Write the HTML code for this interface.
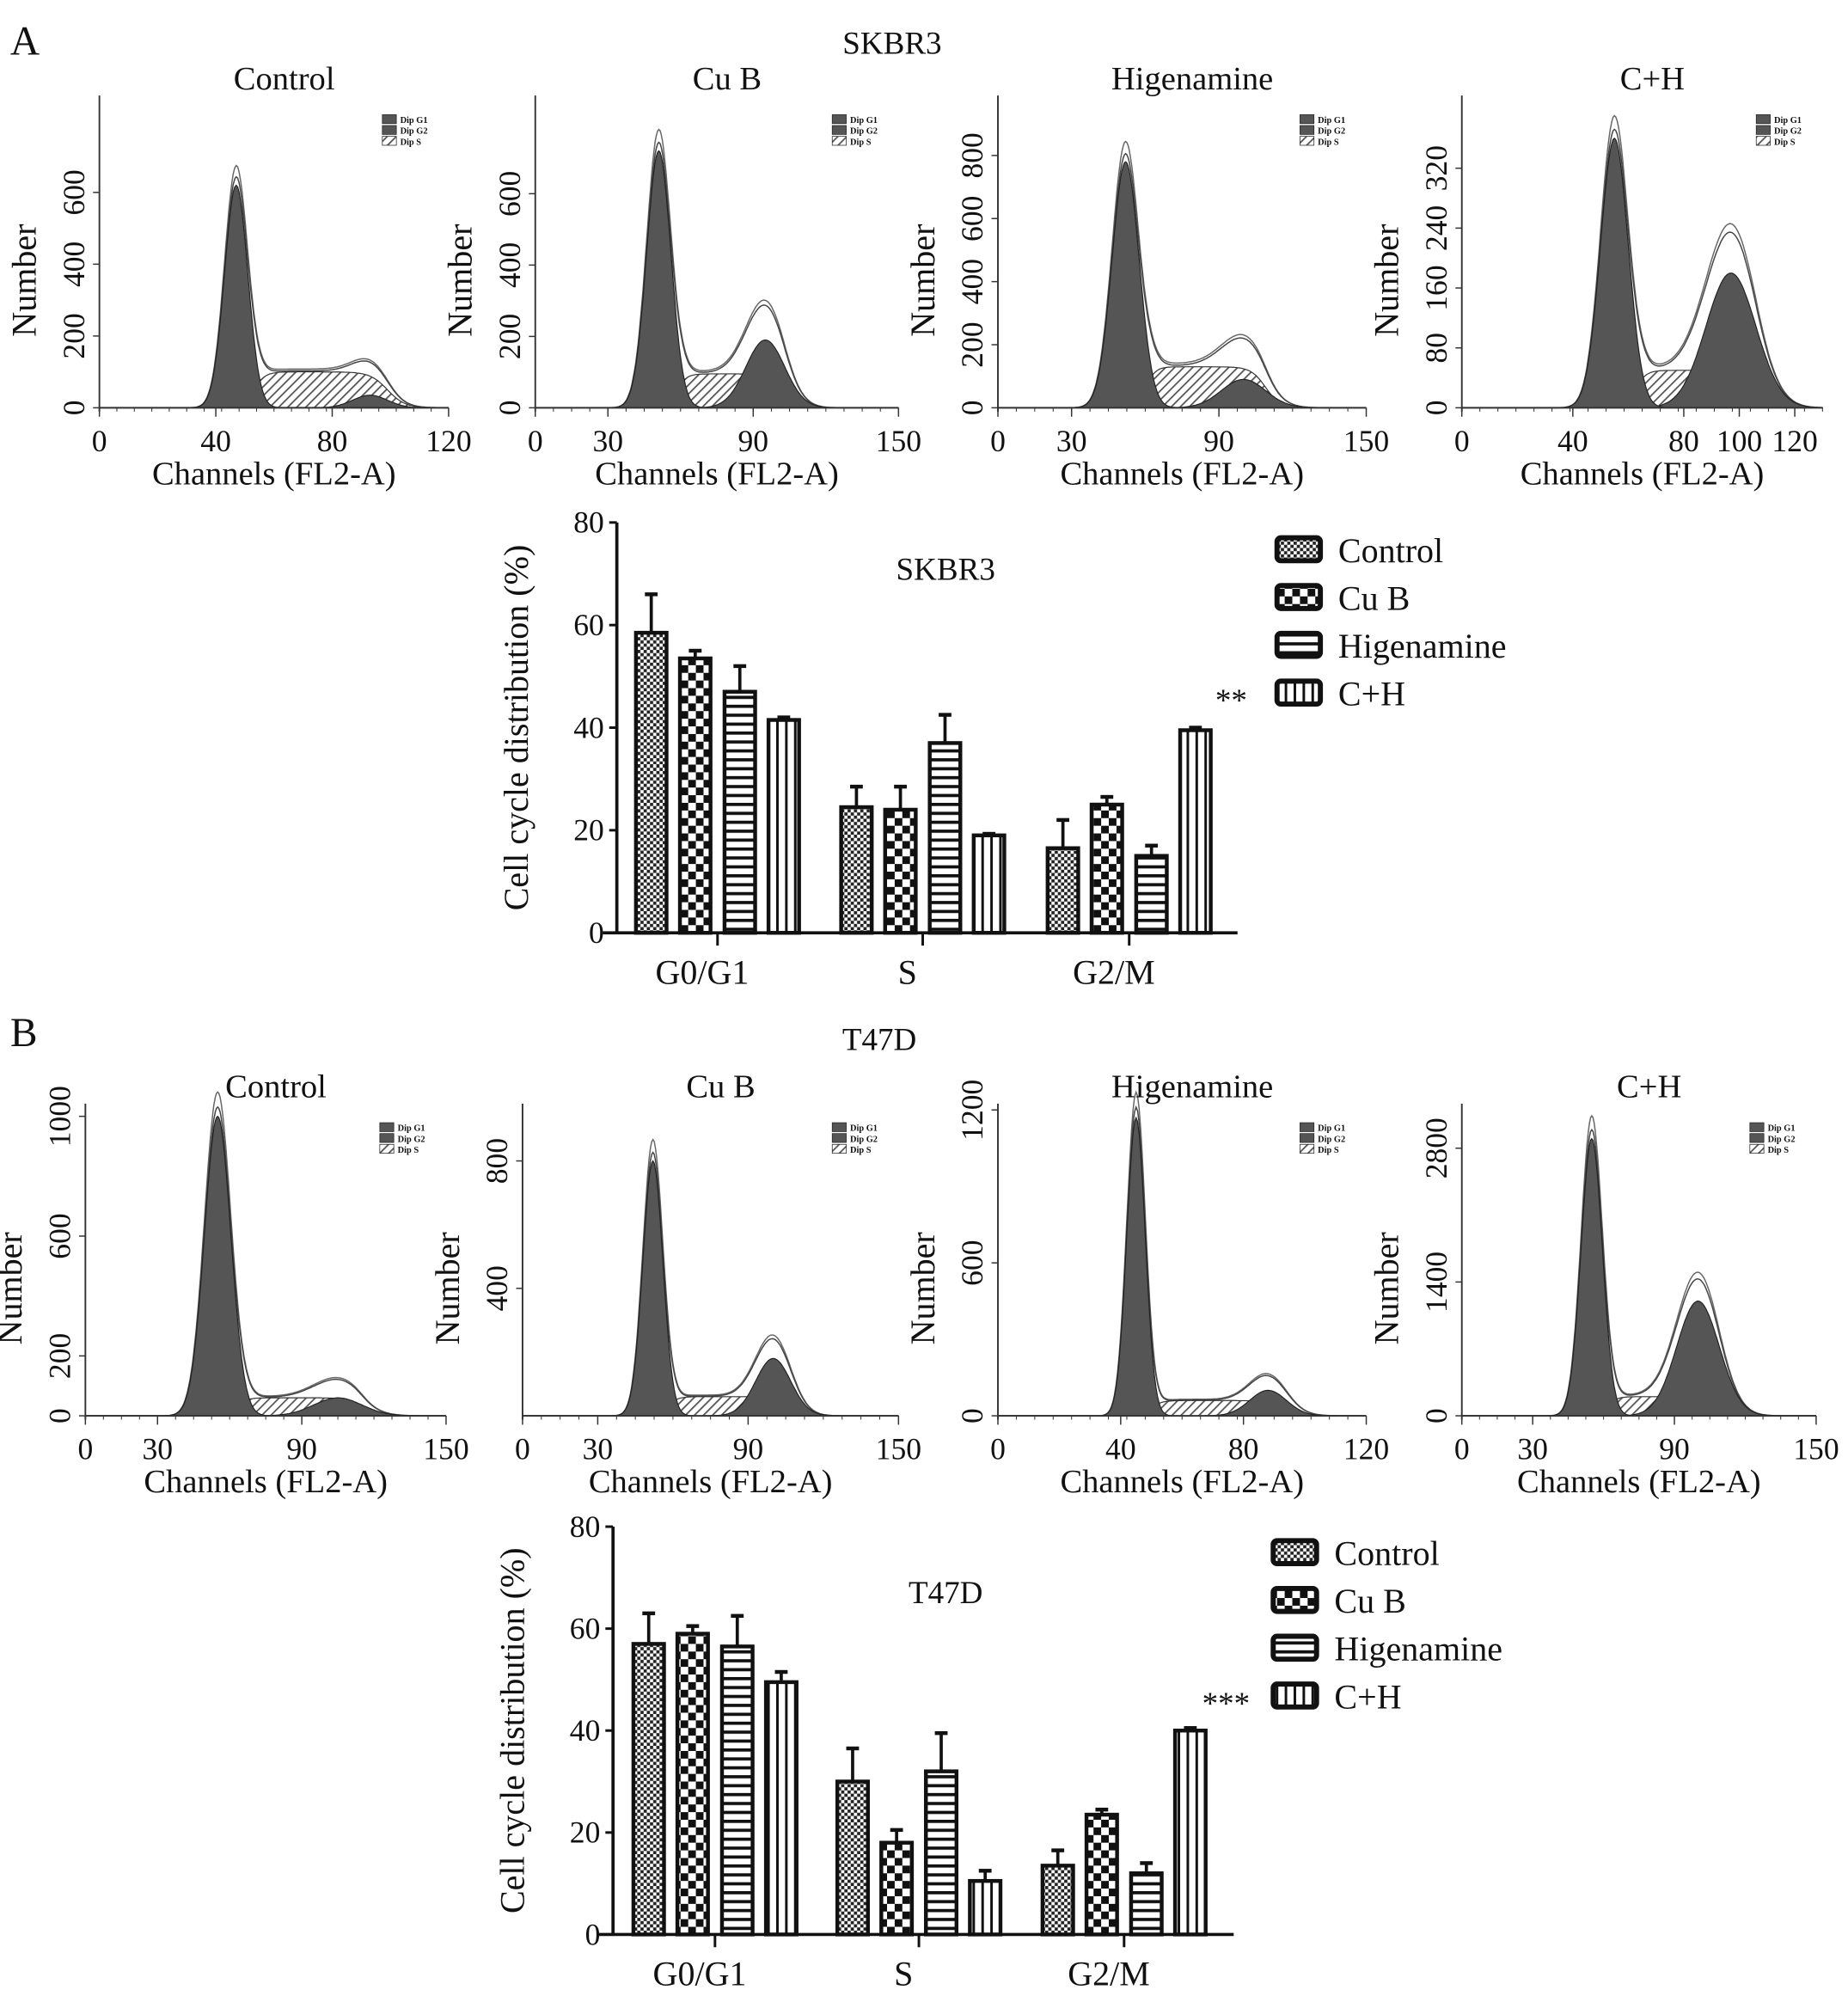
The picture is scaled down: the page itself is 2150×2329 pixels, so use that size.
<!DOCTYPE html>
<html><head><meta charset="utf-8">
<style>
html,body{margin:0;padding:0;background:#fff;}
svg{display:block;}
text{font-family:"Liberation Serif",serif;fill:#111;}
</style></head>
<body>
<svg id="fig" width="2150" height="2329" viewBox="0 0 1450 1571" preserveAspectRatio="none" xmlns="http://www.w3.org/2000/svg">
<defs>
<pattern id="pCtrl" width="5" height="5" patternUnits="userSpaceOnUse"><rect width="5" height="5" fill="#fff"/><rect width="2.5" height="2.5" fill="#222"/><rect x="2.5" y="2.5" width="2.5" height="2.5" fill="#222"/></pattern>
<pattern id="pCub" width="12" height="12" patternUnits="userSpaceOnUse"><rect width="12" height="12" fill="#fff"/><rect width="6" height="6" fill="#111"/><rect x="6" y="6" width="6" height="6" fill="#111"/></pattern>
<pattern id="pHig" width="6" height="7" patternUnits="userSpaceOnUse"><rect width="6" height="7" fill="#fff"/><rect width="6" height="2.5" fill="#111"/></pattern>
<pattern id="pCH" width="7" height="6" patternUnits="userSpaceOnUse"><rect width="7" height="6" fill="#fff"/><rect width="2" height="6" fill="#111"/></pattern>
<pattern id="pS" width="5" height="5" patternUnits="userSpaceOnUse" patternTransform="rotate(45)"><rect width="5" height="5" fill="#fff"/><rect width="1.2" height="5" fill="#555"/></pattern>
</defs>
<g id="root"></g>
</svg>
<script>
// ---- bar chart data ----
const phases = ["G0/G1","S","G2/M"];
const groups = ["Control","Cu B","Higenamine","C+H"];
const skbrMeans = [[58.5,53.5,47,41.5],[24.5,24,37,19],[16.5,25,15,39.5]];
const skbrErr   = [[66,55,52,42],[28.5,28.5,42.5,19.3],[22,26.5,17,40]];
const t47Means  = [[57,59,56.5,49.5],[30,18,32,10.5],[13.5,23.5,12,40]];
const t47Err    = [[63,60.5,62.5,51.5],[36.5,20.5,39.5,12.5],[16.5,24.5,14,40.5]];
const barTicks  = [0,20,40,60,80];
// ---- histogram parameters: [mean channel, peak count, sd] ----
const histG1 = [[47,620,4],[51,720,5],[52,780,5.5],[55,360,5],[55,1000,5.5],[52,800,4],[45,1170,3],[55,2900,4.5]];
const histG2 = [[93,35,6],[95,190,8],[100,90,9],[97,180,9],[105,60,10],[100,180,7],[88,100,6],[100,1200,9]];
const histS  = [100,95,130,50,60,60,60,200];
const histTitles = ["Control","Cu B","Higenamine","C+H","Control","Cu B","Higenamine","C+H"];
const histXTicks = [[0,40,80,120],[0,30,90,150],[0,30,90,150],[0,40,80,100,120],[0,30,90,150],[0,30,90,150],[0,40,80,120],[0,30,90,150]];
const histYTicks = [[0,200,400,600],[0,200,400,600],[0,200,400,600,800],[0,80,160,240,320],[0,200,600,1000],[400,800],[0,600,1200],[0,1400,2800]];
const histXmax = [120,150,150,130,150,150,120,150];
// layout
const histBox = [[78,352,320,0.2817],[420,705,320,0.28],[783,1072,320,0.2475],[1147,1430,320,0.5875],
                 [67,350,1111,0.235],[410,705,1111,0.25],[783,1072,1111,0.2],[1147,1425,1111,0.075]];

const NS="http://www.w3.org/2000/svg";
const root=document.getElementById('root');
function mk(tag,attrs,parent,txt){const e=document.createElementNS(NS,tag);for(const k in attrs)e.setAttribute(k,attrs[k]);if(txt!==undefined)e.textContent=txt;(parent||root).appendChild(e);return e;}

function label(x,y,s,size,anchor,name){
  const t=mk('text',{x:x,y:y,'font-size':size,'text-anchor':anchor||'middle'},root,s);
  
  
  return t;
}
label(8,43,"A",32,"start","panel-label-a");
label(700,42,"SKBR3",25,"middle","skbr3-title");
label(8,821,"B",32,"start","panel-label-b");
label(690,824,"T47D",25,"middle","t47d-title");

function gauss(c,p){return p[1]*Math.exp(-Math.pow(c-p[0],2)/(2*p[2]*p[2]));}
function drawHist(i){
  const [x0,x1,base,ppu]=histBox[i];
  const g=mk('g',{});
  
  
  const xmax=histXmax[i];
  const X=c=>x0+(c/xmax)*(x1-x0);
  const Y=v=>base-v*ppu;
  const g1=histG1[i],g2=histG2[i],sh=histS[i];
  const sf=c=>sh/(1+Math.exp(-(c-(g1[0]+1.5*g1[2]))/2))/(1+Math.exp((c-(g2[0]+g2[2]))/3));
  let dS="",dG1="",dG2="",dT="",dT2="";
  const pts=[];
  for(let c=0;c<=xmax;c+=0.5)pts.push(c);
  pts.forEach((c,k)=>{
    const p=k?"L":"M";
    dS+=p+X(c).toFixed(1)+","+Y(sf(c)).toFixed(1);
    dG1+=p+X(c).toFixed(1)+","+Y(gauss(c,g1)).toFixed(1);
    dG2+=p+X(c).toFixed(1)+","+Y(gauss(c,g2)).toFixed(1);
    const tot=gauss(c,g1)+gauss(c,g2)+sf(c);
    dT+=p+X(c).toFixed(1)+","+Y(tot*1.03).toFixed(1);
    dT2+=p+X(c).toFixed(1)+","+Y(tot*1.08).toFixed(1);
  });
  const close="L"+X(xmax)+","+base+"L"+X(0)+","+base+"Z";
  mk('path',{d:dT2,fill:'none',stroke:'#666','stroke-width':1},g);
  mk('path',{d:dT,fill:'none',stroke:'#444','stroke-width':1},g);
  mk('path',{d:dS+close,fill:'url(#pS)',stroke:'#333','stroke-width':0.8},g);
  mk('path',{d:dG2+close,fill:'#555',stroke:'#222','stroke-width':0.8},g);
  mk('path',{d:dG1+close,fill:'#555',stroke:'#222','stroke-width':0.8},g);
  // axes
  const top=base-245;
  mk('line',{x1:x0,y1:base,x2:x1,y2:base,stroke:'#333','stroke-width':1.3},g);
  mk('line',{x1:x0,y1:base+3,x2:x0,y2:top,stroke:'#333','stroke-width':1.3},g);
  histXTicks[i].forEach(v=>{
    mk('line',{x1:X(v),y1:base,x2:X(v),y2:base+7,stroke:'#333','stroke-width':1},g);
    const t=mk('text',{x:X(v),y:base+34,'font-size':24,'text-anchor':'middle'},g,String(v));
    
    
  });
  for(let v=0;v<=xmax;v+=xmax/20){mk('line',{x1:X(v),y1:base,x2:X(v),y2:base+3,stroke:'#333','stroke-width':0.7},g);}
  histYTicks[i].forEach(v=>{
    const y=Y(v);
    mk('line',{x1:x0-5,y1:y,x2:x0,y2:y,stroke:'#333','stroke-width':1},g);
    const tx=x0-12;
    const t=mk('text',{x:tx,y:y,'font-size':24,'text-anchor':'middle',transform:'rotate(-90 '+tx+' '+y+')'},g,String(v));
    
    
  });
  let t=mk('text',{x:(x0+x1)/2,y:base+60,'font-size':26,'text-anchor':'middle'},g,"Channels (FL2-A)");
  
  
  const nx=x0-50, ny=base-100;
  t=mk('text',{x:nx,y:ny,'font-size':27,'text-anchor':'middle',transform:'rotate(-90 '+nx+' '+ny+')'},g,"Number");
  
  
  t=mk('text',{x:(x0+x1)/2+8,y:base-250,'font-size':26,'text-anchor':'middle'},g,histTitles[i]);
  
  
  // mini legend
  const lx=x1-52, ly=base-230;
  const lg=mk('g',{},g);
  
  
  [["Dip G1","#555"],["Dip G2","#555"],["Dip S","url(#pS)"]].forEach((e,k)=>{
    mk('rect',{x:lx,y:ly+k*8.5,width:11,height:7,fill:e[1],stroke:'#222','stroke-width':0.5},lg);
    mk('text',{x:lx+14,y:ly+k*8.5+6.5,'font-size':7,'font-weight':'bold','font-family':'Liberation Sans, sans-serif'},lg,e[0]);
  });
}
for(let i=0;i<8;i++)drawHist(i);

const fills=['url(#pCtrl)','url(#pCub)','url(#pHig)','url(#pCH)'];
function drawBars(means,errs,ax,y0,y80,groupX,title,titleY,legX,legY,star,starY){
  const g=mk('g',{});
  
  
  const Y=v=>y0-(v/80)*(y0-y80);
  const offs=[-52,-17.5,17.5,52], bw=24;
  mk('line',{x1:ax,y1:y0+1,x2:ax,y2:y80,stroke:'#111','stroke-width':2.5},g);
  mk('line',{x1:ax-11,y1:y0,x2:ax+487,y2:y0,stroke:'#111','stroke-width':2.5},g);
  barTicks.forEach(v=>{
    mk('line',{x1:ax-6,y1:Y(v),x2:ax,y2:Y(v),stroke:'#111','stroke-width':2},g);
    const t=mk('text',{x:ax-10,y:Y(v)+8,'font-size':24,'text-anchor':'end'},g,String(v));
    
    
  });
  phases.forEach((p,pi)=>{
    const cx=groupX[pi];
    mk('line',{x1:cx,y1:y0,x2:cx,y2:y0+10,stroke:'#111','stroke-width':2},g);
    const t=mk('text',{x:cx-12,y:y0+40,'font-size':27,'text-anchor':'middle'},g,p);
    
    
    groups.forEach((gr,gi)=>{
      const bx=cx+offs[gi];
      mk('line',{x1:bx,y1:Y(means[pi][gi]),x2:bx,y2:Y(errs[pi][gi]),stroke:'#111','stroke-width':2.5},g);
      mk('line',{x1:bx-5,y1:Y(errs[pi][gi]),x2:bx+5,y2:Y(errs[pi][gi]),stroke:'#111','stroke-width':3},g);
      const r=mk('rect',{x:bx-bw/2,y:Y(means[pi][gi]),width:bw,height:y0-Y(means[pi][gi]),fill:fills[gi],stroke:'#111','stroke-width':3},g);
      
      
    });
  });
  let t=mk('text',{x:groupX[2]+80,y:starY,'font-size':25,'text-anchor':'middle'},g,star);
  
  
  t=mk('text',{x:742,y:titleY,'font-size':25,'text-anchor':'middle'},g,title);
  
  
  const lx=ax-70, ly=(y0+y80)/2;
  t=mk('text',{x:lx,y:ly,'font-size':27,'text-anchor':'middle','font-family':'Liberation Sans, sans-serif',fill:'#444',transform:'rotate(-90 '+lx+' '+ly+')'},g,"Cell cycle distribution (%)");
  
  
  groups.forEach((gr,gi)=>{
    const yy=legY+gi*37.5;
    const lg=mk('g',{},g);
    
    
    mk('rect',{x:legX+2,y:yy-10,width:34,height:18,rx:3,fill:fills[gi],stroke:'#111','stroke-width':4},lg);
    mk('text',{x:legX+50,y:yy+9,'font-size':27},lg,gr);
  });
}
drawBars(skbrMeans,skbrErr,484,732,410,[563,724,886],"SKBR3",455,1000,432,"**",558);
drawBars(t47Means,t47Err,481,1518,1198,[561,721,882],"T47D",1258,997,1219,"***",1345);
</script>
</body></html>
